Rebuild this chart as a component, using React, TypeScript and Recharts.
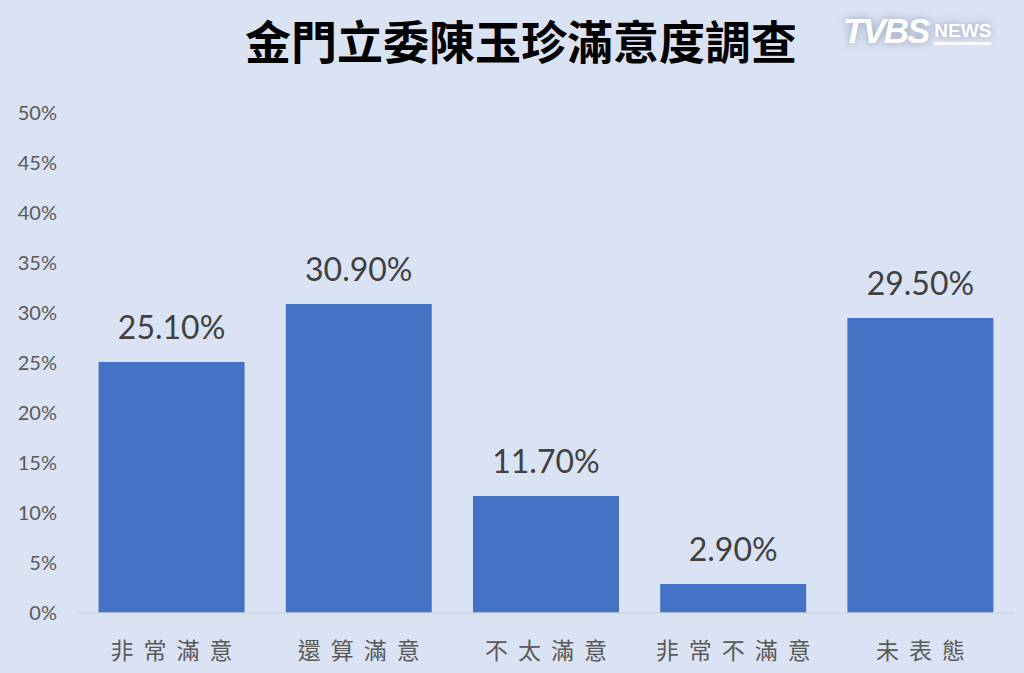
import React from "react";
import { BarChart, Bar, XAxis, YAxis, LabelList } from "recharts";

const categories = ["非常滿意", "還算滿意", "不太滿意", "非常不滿意", "未表態"];
const shares = [25.1, 30.9, 11.7, 2.9, 29.5];
const yTicks = [0, 5, 10, 15, 20, 25, 30, 35, 40, 45, 50];

const data = categories.map((name, i) => ({ name, share: shares[i] }));

const BG = "#dae3f3";
const BAR = "#4472c4";

function CategoryTick({ x, y, payload }: { x?: number; y?: number; payload?: { value: string } }) {
  const spacing = 10;
  return (
    <text
      x={x}
      y={(y ?? 0) + 38}
      dx={spacing / 2}
      textAnchor="middle"
      fill="#595959"
      fontSize={23}
      fontFamily="'Noto Sans CJK TC', sans-serif"
      style={{ letterSpacing: spacing }}
    >
      {payload?.value}
    </text>
  );
}

export default function App() {
  return (
    <div style={{ position: "absolute", left: 0, top: 0, width: 1024, height: 673, background: BG, overflow: "hidden" }}>
      <div
        style={{
          position: "absolute",
          left: 0,
          width: 1042,
          top: 8,
          textAlign: "center",
          fontFamily: "'Noto Sans CJK TC', sans-serif",
          fontWeight: 700,
          fontSize: 46,
          lineHeight: "62px",
          color: "#000",
        }}
      >
        金門立委陳玉珍滿意度調查
      </div>
      {/* logo */}
      <div
        style={{
          position: "absolute",
          left: 843,
          top: 12,
          display: "flex",
          alignItems: "flex-end",
          gap: 6,
          color: "#fff",
          fontFamily: "'Liberation Sans', sans-serif",
          fontWeight: 700,
          textShadow: "0 0 8px rgba(90,100,130,0.55)",
        }}
      >
        <span style={{ fontSize: 35, fontStyle: "italic", letterSpacing: -2, lineHeight: "38px" }}>TVBS</span>
        <span style={{ fontSize: 19, lineHeight: "22px", borderBottom: "3px solid #fff", marginBottom: 5 }}>NEWS</span>
      </div>
      <BarChart
        width={1024}
        height={673}
        data={data}
        margin={{ top: 113, right: 10, left: 0, bottom: 0 }}
        barCategoryGap="11%"
      >
        <XAxis
          dataKey="name"
          height={60}
          axisLine={{ stroke: "#d0d5dd", strokeWidth: 1.5 }}
          tickLine={false}
          tick={<CategoryTick />}
          interval={0}
        />
        <YAxis
          width={78}
          domain={[0, 50]}
          ticks={yTicks}
          interval={0}
          axisLine={false}
          tickLine={false}
          tickSize={0}
          tickMargin={21}
          tickFormatter={(v: number) => `${v}%`}
          tick={{ fill: "#595959", fontSize: 20, fontFamily: "Lato, 'Open Sans', sans-serif" }}
        />
        <Bar dataKey="share" fill={BAR} isAnimationActive={false}>
          <LabelList
            dataKey="share"
            position="top"
            offset={23}
            formatter={(v: any) => `${Number(v).toFixed(2)}%`}
            style={{ fill: "#404040", fontSize: 32, fontFamily: "Lato, 'Open Sans', sans-serif" }}
          />
        </Bar>
      </BarChart>
    </div>
  );
}
